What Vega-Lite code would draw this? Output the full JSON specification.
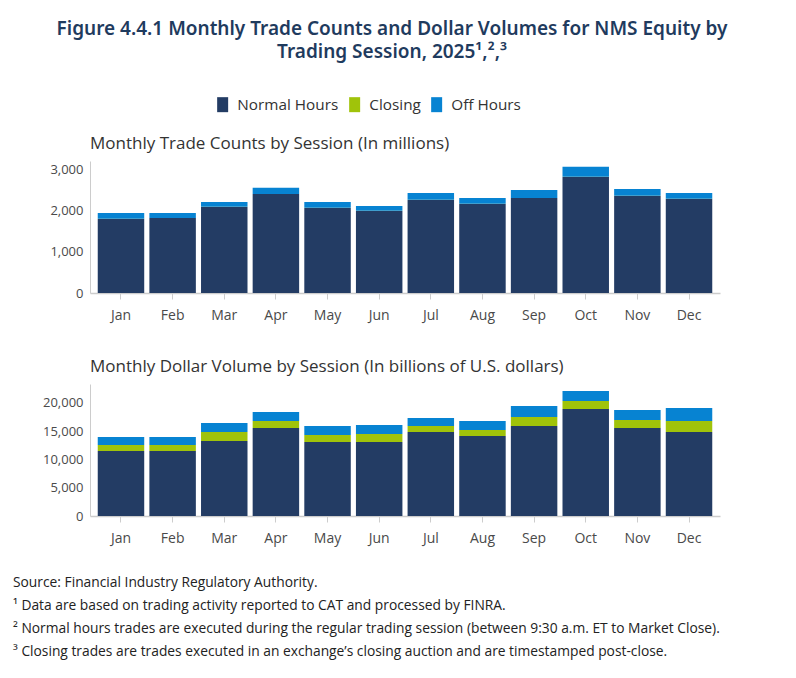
{
  "$schema": "https://vega.github.io/schema/vega-lite/v6.json",
  "padding": {"left": 13, "top": 20, "right": 10, "bottom": 10},
  "background": "white",
  "title": {
    "text": ["Figure 4.4.1 Monthly Trade Counts and Dollar Volumes for NMS Equity by", "Trading Session, 2025¹,²,³"],
    "anchor": "middle",
    "frame": "group",
    "dx": -13,
    "font": "Noto Sans",
    "fontSize": 19,
    "fontWeight": 600,
    "color": "#1F3B5E",
    "lineHeight": 23,
    "offset": 35
  },
  "datasets": {
    "sessions": [
      {"month": "Jan", "session": "Normal Hours", "trades": 1795, "dollars": 11470},
      {"month": "Jan", "session": "Closing", "trades": 2, "dollars": 1060},
      {"month": "Jan", "session": "Off Hours", "trades": 145, "dollars": 1410},
      {"month": "Feb", "session": "Normal Hours", "trades": 1819, "dollars": 11470},
      {"month": "Feb", "session": "Closing", "trades": 2, "dollars": 1060},
      {"month": "Feb", "session": "Off Hours", "trades": 121, "dollars": 1410},
      {"month": "Mar", "session": "Normal Hours", "trades": 2086, "dollars": 13240},
      {"month": "Mar", "session": "Closing", "trades": 2, "dollars": 1590},
      {"month": "Mar", "session": "Off Hours", "trades": 121, "dollars": 1590},
      {"month": "Apr", "session": "Normal Hours", "trades": 2401, "dollars": 15530},
      {"month": "Apr", "session": "Closing", "trades": 2, "dollars": 1240},
      {"month": "Apr", "session": "Off Hours", "trades": 146, "dollars": 1590},
      {"month": "May", "session": "Normal Hours", "trades": 2062, "dollars": 13060},
      {"month": "May", "session": "Closing", "trades": 2, "dollars": 1240},
      {"month": "May", "session": "Off Hours", "trades": 145, "dollars": 1590},
      {"month": "Jun", "session": "Normal Hours", "trades": 1989, "dollars": 13060},
      {"month": "Jun", "session": "Closing", "trades": 2, "dollars": 1410},
      {"month": "Jun", "session": "Off Hours", "trades": 121, "dollars": 1590},
      {"month": "Jul", "session": "Normal Hours", "trades": 2256, "dollars": 14820},
      {"month": "Jul", "session": "Closing", "trades": 2, "dollars": 1060},
      {"month": "Jul", "session": "Off Hours", "trades": 169, "dollars": 1410},
      {"month": "Aug", "session": "Normal Hours", "trades": 2159, "dollars": 14120},
      {"month": "Aug", "session": "Closing", "trades": 2, "dollars": 1060},
      {"month": "Aug", "session": "Off Hours", "trades": 145, "dollars": 1590},
      {"month": "Sep", "session": "Normal Hours", "trades": 2304, "dollars": 15880},
      {"month": "Sep", "session": "Closing", "trades": 2, "dollars": 1590},
      {"month": "Sep", "session": "Off Hours", "trades": 194, "dollars": 1940},
      {"month": "Oct", "session": "Normal Hours", "trades": 2814, "dollars": 18880},
      {"month": "Oct", "session": "Closing", "trades": 2, "dollars": 1410},
      {"month": "Oct", "session": "Off Hours", "trades": 242, "dollars": 1770},
      {"month": "Nov", "session": "Normal Hours", "trades": 2353, "dollars": 15530},
      {"month": "Nov", "session": "Closing", "trades": 2, "dollars": 1410},
      {"month": "Nov", "session": "Off Hours", "trades": 169, "dollars": 1770},
      {"month": "Dec", "session": "Normal Hours", "trades": 2280, "dollars": 14820},
      {"month": "Dec", "session": "Closing", "trades": 2, "dollars": 1940},
      {"month": "Dec", "session": "Off Hours", "trades": 145, "dollars": 2300}
    ],
    "notes": [
      {"line": 1, "text": "Source: Financial Industry Regulatory Authority."},
      {"line": 2, "text": "¹ Data are based on trading activity reported to CAT and processed by FINRA."},
      {"line": 3, "text": "² Normal hours trades are executed during the regular trading session (between 9:30 a.m. ET to Market Close)."},
      {"line": 4, "text": "³ Closing trades are trades executed in an exchange’s closing auction and are timestamped post-close."}
    ]
  },
  "vconcat": [
    {
      "vconcat": [
        {
          "title": {"text": "Monthly Trade Counts by Session (In millions)"},
          "width": 630,
          "height": 132,
          "data": {"name": "sessions"},
          "transform": [{"calculate": "indexof(['Normal Hours','Closing','Off Hours'], datum.session)", "as": "stackOrder"}],
          "mark": {"type": "bar"},
          "encoding": {
            "x": {"field": "month", "type": "nominal", "sort": null, "title": null,
                  "scale": {"paddingInner": 0.1, "paddingOuter": 0.15},
                  "axis": {"labelAngle": 0}},
            "y": {"field": "trades", "type": "quantitative", "stack": "zero", "title": null,
                  "scale": {"domain": [0, 3200], "nice": false},
                  "axis": {"values": [0, 1000, 2000, 3000]}},
            "color": {"field": "session", "type": "nominal", "title": null,
                      "scale": {"domain": ["Normal Hours", "Closing", "Off Hours"], "range": ["#233C64", "#A0C30A", "#0783D2"]},
                      "legend": {"orient": "none", "legendX": 125, "legendY": -64}},
            "order": {"field": "stackOrder", "type": "quantitative", "sort": "ascending"}
          }
        },
        {
          "title": {"text": "Monthly Dollar Volume by Session (In billions of U.S. dollars)"},
          "width": 630,
          "height": 132,
          "data": {"name": "sessions"},
          "transform": [{"calculate": "indexof(['Normal Hours','Closing','Off Hours'], datum.session)", "as": "stackOrder"}],
          "mark": {"type": "bar"},
          "encoding": {
            "x": {"field": "month", "type": "nominal", "sort": null, "title": null,
                  "scale": {"paddingInner": 0.1, "paddingOuter": 0.15},
                  "axis": {"labelAngle": 0}},
            "y": {"field": "dollars", "type": "quantitative", "stack": "zero", "title": null,
                  "scale": {"domain": [0, 23300], "nice": false},
                  "axis": {"values": [0, 5000, 10000, 15000, 20000]}},
            "color": {"field": "session", "type": "nominal", "title": null,
                      "scale": {"domain": ["Normal Hours", "Closing", "Off Hours"], "range": ["#233C64", "#A0C30A", "#0783D2"]}},
            "order": {"field": "stackOrder", "type": "quantitative", "sort": "ascending"}
          }
        }
      ],
      "spacing": 36
    },
    {
      "width": 630,
      "height": {"step": 23},
      "data": {"name": "notes"},
      "mark": {"type": "text", "align": "left", "baseline": "middle", "dx": -77, "font": "Open Sans", "fontSize": 13.8, "color": "#222222"},
      "encoding": {
        "x": {"value": 0},
        "y": {"field": "line", "type": "ordinal", "axis": null, "scale": {"type": "point", "padding": 0}},
        "text": {"field": "text", "type": "nominal"}
      }
    }
  ],
  "spacing": 31,
  "resolve": {"scale": {"color": "shared"}},
  "config": {
    "font": "Open Sans",
    "view": {"stroke": null},
    "bar": {"stroke": null},
    "title": {"anchor": "start", "frame": "group", "font": "Open Sans", "fontSize": 17, "fontWeight": "normal", "color": "#333333", "offset": 8},
    "axis": {
      "grid": false,
      "domainColor": "#CCCCCC",
      "tickColor": "#CCCCCC",
      "labelFont": "Open Sans",
      "labelColor": "#4A4A4A"
    },
    "axisX": {"labelFontSize": 14, "tickSize": 6, "labelPadding": 9, "domainWidth": 1.5},
    "axisY": {"labelFontSize": 13, "ticks": false, "labelPadding": 7},
    "legend": {
      "direction": "horizontal",
      "labelFont": "Open Sans",
      "labelFontSize": 15.3,
      "labelColor": "#333333",
      "symbolType": "M-0.733,-1H0.733V1H-0.733Z",
      "symbolSize": 225,
      "symbolStrokeWidth": 0,
      "labelOffset": 7,
      "columnPadding": 8
    }
  }
}
